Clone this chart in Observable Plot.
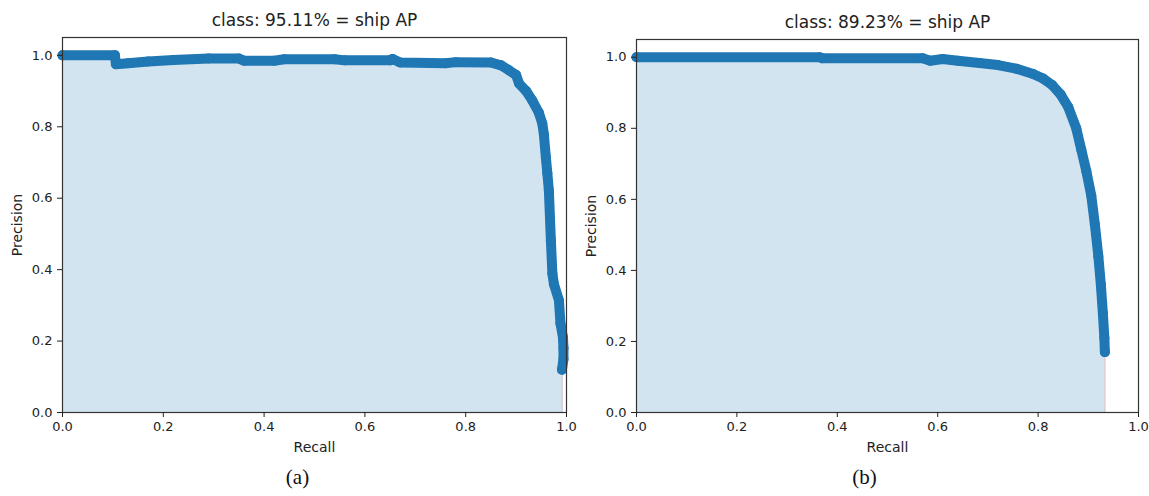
<!DOCTYPE html>
<html>
<head>
<meta charset="utf-8">
<script src="https://cdn.jsdelivr.net/npm/d3@7"></script>
<script src="https://cdn.jsdelivr.net/npm/@observablehq/plot@0.6"></script>
<style>
  html, body { margin: 0; padding: 0; background: #fff; }
  #wrap { position: relative; width: 1149px; height: 496px; overflow: hidden; background: #fff; }
  #wrap > svg, #wrap > figure { position: absolute; top: 0; margin: 0; }
  #wrap g[aria-label$="tick label"] text { font-size: 13px !important; }
  #wrap g[aria-label$="axis label"] text { font-size: 14px !important; }
</style>
</head>
<body>
<div id="wrap"></div>
<script>
// Panel (a)
const titleA = "class: 95.11% = ship AP";
const captionA = "(a)";
const recallA = [0, 0.104, 0.106, 0.13, 0.17, 0.22, 0.29, 0.35, 0.36, 0.42, 0.44, 0.54, 0.56, 0.65, 0.655, 0.67, 0.76, 0.78, 0.85, 0.87, 0.886, 0.9, 0.906, 0.92, 0.932, 0.945, 0.952, 0.955, 0.959, 0.962, 0.965, 0.969, 0.972, 0.975, 0.985, 0.988, 0.993, 0.994, 0.994, 0.991];
const precisionA = [1.0, 1.0, 0.975, 0.978, 0.983, 0.987, 0.991, 0.991, 0.985, 0.985, 0.989, 0.989, 0.986, 0.986, 0.99, 0.98, 0.978, 0.981, 0.98, 0.972, 0.958, 0.945, 0.921, 0.9, 0.874, 0.84, 0.809, 0.78, 0.715, 0.67, 0.622, 0.482, 0.389, 0.36, 0.314, 0.25, 0.21, 0.18, 0.15, 0.12];

// Panel (b)
const titleB = "class: 89.23% = ship AP";
const captionB = "(b)";
const recallB = [0, 0.365, 0.37, 0.57, 0.585, 0.61, 0.64, 0.683, 0.72, 0.756, 0.79, 0.81, 0.828, 0.845, 0.86, 0.876, 0.886, 0.896, 0.906, 0.913, 0.92, 0.925, 0.929, 0.932, 0.933];
const precisionB = [1.0, 1.0, 0.997, 0.997, 0.99, 0.995, 0.99, 0.984, 0.978, 0.968, 0.953, 0.94, 0.922, 0.895, 0.86, 0.8, 0.74, 0.68, 0.61, 0.53, 0.44, 0.36, 0.28, 0.21, 0.17];

const tickValues = [0, 0.2, 0.4, 0.6, 0.8, 1.0];
const xLabel = "Recall";
const yLabel = "Precision";

function panel(recall, precision, title, caption, opts) {
  const data = recall.map((r, i) => ({r, p: precision[i]}));
  const last = data[data.length - 1];
  return Plot.plot({
    width: opts.width,
    height: 496,
    marginLeft: opts.marginLeft,
    marginRight: opts.marginRight,
    marginTop: opts.marginTop,
    marginBottom: 84,
    x: {domain: [0, 1]},
    y: {domain: [0, 1.05]},
    style: {fontFamily: "DejaVu Sans", fontSize: "13px", color: "#222", background: "transparent", overflow: "visible"},
    marks: [
      Plot.areaY(data, {x: "r", y: "p", fill: "#d2e4f0"}),
      Plot.ruleX([last], {x: "r", y1: 0, y2: "p", stroke: "#d8cdd2", strokeWidth: 1.5}),
      Plot.line(data, {x: "r", y: "p", stroke: "#1f77b4", strokeWidth: 10, strokeLinejoin: "round", strokeLinecap: "round"}),
      Plot.dot(data, {x: "r", y: "p", r: 5, fill: "#1f77b4"}),
      Plot.frame({stroke: "#333", strokeWidth: 1.2}),
      Plot.axisX({ticks: tickValues, tickFormat: ".1f", tickSize: 5, tickPadding: 4,
        label: xLabel, labelAnchor: "center", labelArrow: "none", labelOffset: 39}),
      Plot.axisY({ticks: tickValues, tickFormat: ".1f", tickSize: 5, tickPadding: 5,
        label: yLabel, labelAnchor: "center", labelArrow: "none", labelOffset: 50}),
      Plot.text([title], {text: d => d, frameAnchor: "top", dy: -24, fontSize: 17}),
      Plot.text([caption], {text: d => d, frameAnchor: "bottom", dy: 71, dx: opts.capDx, fontSize: 21, fontFamily: "Liberation Serif", fill: "#111"})
    ]
  });
}

const wrap = document.getElementById("wrap");
const b = panel(recallB, precisionB, titleB, captionB, {width: 575, marginLeft: 62, marginRight: 11, marginTop: 39, capDx: -23});
b.style.left = "574px";
wrap.appendChild(b);
const a = panel(recallA, precisionA, titleA, captionA, {width: 574, marginLeft: 62, marginRight: 8, marginTop: 37, capDx: -17});
a.style.left = "0px";
wrap.appendChild(a);
</script>
</body>
</html>
